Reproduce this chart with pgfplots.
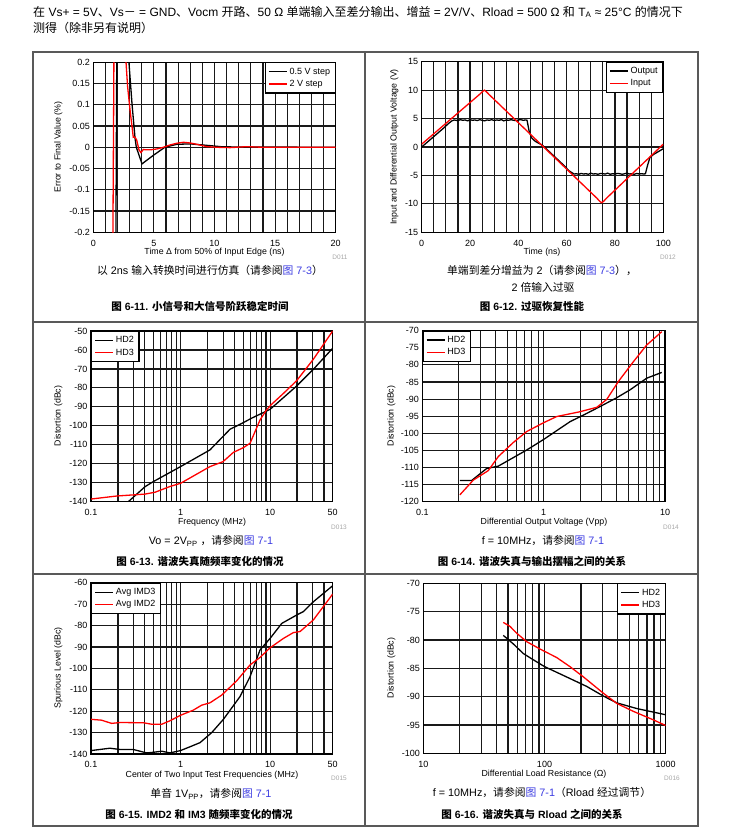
\documentclass[border=0pt]{standalone}
\usepackage{fontspec}
\setmainfont{Liberation Sans}
\newfontfamily\cjk{Noto Sans CJK SC}
\usepackage{pgfplots}
\pgfplotsset{compat=1.18}

\definecolor{lnk}{RGB}{60,60,225}
\definecolor{frm}{gray}{0.35}
\newcommand\zh[1]{{\cjk #1}}
\newcommand\lbl{\fontsize{8.8}{10}\selectfont}
\newcommand\hdf{\fontsize{12}{14}\selectfont}
\newcommand\capf{\fontsize{10.8}{12}\selectfont}
\newcommand\ttlf{\fontsize{10.5}{12}\selectfont\bfseries}
\newcommand\dnum{\fontsize{6.5}{7}\selectfont\color{black!35}}

\pgfplotsset{
  ds/.style={
    scale only axis, anchor=south west,
    axis line style={line width=1.4pt},
    grid=both,
    major grid style={line width=1.15pt, black!90},
    minor grid style={line width=1.15pt, black!90},
    tick style={draw=none},
    tick label style={font=\fontsize{9}{10}\selectfont},
    xticklabel style={yshift=-4pt},
    legend style={font=\fontsize{9}{9.5}\selectfont, draw=black, line width=1.2pt,
      inner xsep=3pt, inner ysep=3pt, row sep=0.5pt, cells={anchor=west}},
    legend image code/.code={\draw[##1, line width=1.4pt] (0pt,0pt) -- (18pt,0pt);},
    every axis plot/.append style={line width=1.3pt, mark=none},
  },
}

\begin{document}
\begin{tikzpicture}[x=1pt,y=1pt]
\path[use as bounding box] (0,0) rectangle (730,833);

% header
\node[anchor=west, font=\hdf, inner sep=0] at (33,821) {\zh{在} Vs+ = 5V\zh{、}Vs\zh{－} = GND\zh{、}Vocm \zh{开路、}50 Ω \zh{单端输入至差分输出、增益} = 2V/V\zh{、}Rload = 500 Ω \zh{和} T\textsubscript{A} ≈ 25°C \zh{的情况下}};
\node[anchor=west, font=\hdf, inner sep=0] at (33,805) {\zh{测得（除非另有说明）}};

% frames
\draw[frm, line width=1.1pt] (33,781) rectangle (698,7);
\draw[frm, line width=1.1pt] (365,781) -- (365,7);
\draw[frm, line width=1.1pt] (33,511) -- (698,511);
\draw[frm, line width=1.1pt] (33,259) -- (698,259);

% ---------- 6-11 ----------
\begin{axis}[ds, at={(93.3pt,600.7pt)}, width=242.4pt, height=170pt,
  xmin=0, xmax=20, ymin=-0.2, ymax=0.2,
  xtick={0,5,10,15,20}, xticklabels={0,5,10,15,20},
  minor xtick={1,2,3,4,6,7,8,9,11,12,13,14,16,17,18,19},
  ytick={-0.2,-0.15,-0.1,-0.05,0,0.05,0.1,0.15,0.2},
  yticklabels={-0.2,-0.15,-0.1,-0.05,0,0.05,0.1,0.15,0.2},
  legend style={at={(1,1)}, anchor=north east}]
\addplot[black] coordinates {
  (1.85,-0.3) (1.95,0.3) (2.9,0.3) (2.94,0.2) (3.2,0.1) (3.45,0.02) (3.55,0)
  (4.02,-0.039) (4.9,-0.02) (5.9,0) (6.88,0.007) (8,0.008) (9.6,0.004)
  (10.7,0.001) (20,0)};
\addplot[red] coordinates {
  (1.6,-0.3) (1.72,0.3) (2.6,0.3) (2.70,0.2) (2.83,0.143) (3.03,0.088)
  (3.30,0.0235) (3.44,0.024) (3.58,0.017) (3.77,-0.006) (3.93,-0.0125)
  (4.13,-0.005) (4.32,-0.006) (4.68,-0.006) (5.23,-0.004) (5.78,0)
  (6.33,0.0055) (6.88,0.0094) (7.43,0.0118) (7.98,0.0102) (8.53,0.0071)
  (9.35,0.0016) (10.18,0) (11.28,-0.0008) (12.65,0.0015) (14.03,0) (20,0)};
\legend{0.5 V step, 2 V step}
\end{axis}
\node[rotate=90, anchor=mid, font=\lbl] at (58,686) {Error to Final Value (\%)};
\node[anchor=mid, font=\lbl] at (214.5,581) {Time Δ from 50\% of Input Edge (ns)};
\node[anchor=mid, font=\dnum] at (340,576) {D011};
\node[anchor=mid, font=\capf] at (210,561) {\zh{以} 2ns \zh{输入转换时间进行仿真（请参阅}\textcolor{lnk}{\zh{图} 7-3}\zh{）}};
\node[anchor=mid, font=\ttlf] at (200,525) {\zh{图} 6-11. \zh{小信号和大信号阶跃稳定时间}};

% ---------- 6-12 ----------
\begin{axis}[ds, at={(421.7pt,600.7pt)}, width=241.6pt, height=170.6pt,
  xmin=0, xmax=100, ymin=-15, ymax=15,
  xtick={0,20,40,60,80,100}, xticklabels={0,20,40,60,80,100},
  minor xtick={5,10,15,25,30,35,45,50,55,65,70,75,85,90,95},
  ytick={-15,-10,-5,0,5,10,15}, yticklabels={-15,-10,-5,0,5,10,15},
  legend style={at={(1,1)}, anchor=north east}]
\addplot[black] coordinates {
  (0,0) (3,1.1) (6,2.2) (9,3.3) (11,4.1) (12.5,4.6) (13.5,4.75) (14,4.7)
  (15,4.65) (16,4.8) (17,4.7) (18,4.75) (19,4.6) (20,4.8) (21,4.7) (22,4.75)
  (23,4.65) (24,4.8) (25,4.7) (26,4.6) (27,4.75) (28,4.7) (29,4.8) (30,4.65)
  (31,4.75) (32,4.7) (33,4.8) (34,4.6) (35,4.75) (36,4.7) (37,4.8) (38,4.7)
  (39,4.65) (40,4.75) (41,4.8) (42,4.7) (43,4.75) (43.6,4.7) (44.5,2.7)
  (45.5,1.6) (47,1.0) (50,0.3) (53,-0.9) (56,-2.1) (59,-3.3) (61,-4.2)
  (62.5,-4.6) (63,-4.75) (64,-4.7) (65,-4.8) (66,-4.65) (67,-4.75) (68,-4.7)
  (69,-4.8) (70,-4.6) (71,-4.75) (72,-4.7) (73,-4.8) (74,-4.65) (75,-4.7)
  (76,-4.75) (77,-4.6) (78,-4.8) (79,-4.7) (80,-4.75) (81,-4.65) (82,-4.7)
  (83,-4.8) (84,-4.7) (85,-4.6) (86,-4.75) (87,-4.7) (88,-4.8) (89,-4.65)
  (90,-4.75) (91,-4.7) (92,-4.75) (92.6,-4.7) (93.5,-3.2) (94.5,-1.8)
  (96,-1.3) (98,-0.8) (100,-0.3)};
\addplot[red] coordinates {
  (0,0.5) (24,9.27) (25.2,9.75) (26,10) (26.8,9.7) (28,9.18) (72.5,-9.0)
  (73.8,-9.6) (74.5,-9.8) (75.3,-9.55) (76.5,-9.0) (100,0.5)};
\legend{Output, Input}
\end{axis}
\node[rotate=90, anchor=mid, font=\lbl] at (394,686) {Input and Differential Output Voltage (V)};
\node[anchor=mid, font=\lbl] at (542,581) {Time (ns)};
\node[anchor=mid, font=\dnum] at (668,576) {D012};
\node[anchor=mid, font=\capf] at (542,561) {\zh{单端到差分增益为} 2\zh{（请参阅}\textcolor{lnk}{\zh{图} 7-3}\zh{），}};
\node[anchor=mid, font=\capf] at (543,544) {2 \zh{倍输入过驱}};
\node[anchor=mid, font=\ttlf] at (532,525) {\zh{图} 6-12. \zh{过驱恢复性能}};

% ---------- 6-13 ----------
\begin{axis}[ds, xmode=log, at={(91pt,331.3pt)}, width=241.7pt, height=170.7pt,
  xmin=0.1, xmax=50, ymin=-140, ymax=-50,
  xtick={0.1,1,10,50}, xticklabels={0.1,1,10,50},
  minor xtick={0.2,0.3,0.4,0.5,0.6,0.7,0.8,0.9,2,3,4,5,6,7,8,9,20,30,40},
  ytick={-140,-130,-120,-110,-100,-90,-80,-70,-60,-50},
  yticklabels={-140,-130,-120,-110,-100,-90,-80,-70,-60,-50},
  legend style={at={(0,1)}, anchor=north west}]
\addplot[black] coordinates {
  (0.261,-140) (0.401,-132.1) (0.497,-129.4) (1,-121.5) (2.13,-112.7)
  (3.57,-101.8) (5.03,-98.3) (6.2,-96) (10,-91.3) (19.8,-79) (30.4,-70.2)
  (50,-59.1)};
\addplot[red] coordinates {
  (0.1,-138.6) (0.194,-137) (0.4,-136) (0.52,-135) (0.76,-132) (1,-130.3)
  (2.13,-121.5) (2.98,-118.9) (3.89,-114) (5.03,-111.5) (5.97,-109.2)
  (7.72,-96.9) (9.0,-92) (10.2,-89) (14.1,-82.9) (19.8,-76.2) (30.4,-64.9)
  (50,-50)};
\legend{HD2, HD3}
\end{axis}
\node[rotate=90, anchor=mid, font=\lbl] at (58,417) {Distortion (dBc)};
\node[anchor=mid, font=\lbl] at (212,311.3) {Frequency (MHz)};
\node[anchor=mid, font=\dnum] at (339,306) {D013};
\node[anchor=mid, font=\capf] at (211,291) {Vo = 2V\textsubscript{PP} \zh{，请参阅}\textcolor{lnk}{\zh{图} 7-1}};
\node[anchor=mid, font=\ttlf] at (200,270) {\zh{图} 6-13. \zh{谐波失真随频率变化的情况}};

% ---------- 6-14 ----------
\begin{axis}[ds, xmode=log, at={(422.3pt,331.3pt)}, width=242.7pt, height=171pt,
  xmin=0.1, xmax=10, ymin=-120, ymax=-70,
  xtick={0.1,1,10}, xticklabels={0.1,1,10},
  minor xtick={0.2,0.3,0.4,0.5,0.6,0.7,0.8,0.9,2,3,4,5,6,7,8,9},
  ytick={-120,-115,-110,-105,-100,-95,-90,-85,-80,-75,-70},
  yticklabels={-120,-115,-110,-105,-100,-95,-90,-85,-80,-75,-70},
  legend style={at={(0,1)}, anchor=north west}]
\addplot[black] coordinates {
  (0.204,-113.8) (0.255,-113.8) (0.339,-110.3) (0.423,-109.6) (0.724,-104.9)
  (1,-101.8) (1.65,-96.6) (2.12,-94.7) (2.91,-92.2) (4.0,-89.6) (5.15,-87.3)
  (7.06,-83.9) (9.4,-82.2)};
\addplot[red] coordinates {
  (0.204,-118) (0.263,-113.7) (0.35,-110.9) (0.423,-106.8) (0.562,-102.7)
  (0.724,-99.5) (1,-96.9) (1.28,-95.1) (1.99,-93.7) (2.74,-92.4) (3.31,-90.1)
  (4.12,-84.9) (5.48,-79.1) (7.06,-74.2) (9.4,-70.3)};
\legend{HD2, HD3}
\end{axis}
\node[rotate=90, anchor=mid, font=\lbl] at (391,417) {Distortion (dBc)};
\node[anchor=mid, font=\lbl] at (544,311) {Differential Output Voltage (Vpp)};
\node[anchor=mid, font=\dnum] at (671,306) {D014};
\node[anchor=mid, font=\capf] at (543,291) {f = 10MHz\zh{，请参阅}\textcolor{lnk}{\zh{图} 7-1}};
\node[anchor=mid, font=\ttlf] at (532,270) {\zh{图} 6-14. \zh{谐波失真与输出摆幅之间的关系}};

% ---------- 6-15 ----------
\begin{axis}[ds, xmode=log, at={(91pt,79pt)}, width=241.7pt, height=171.3pt,
  xmin=0.1, xmax=50, ymin=-140, ymax=-60,
  xtick={0.1,1,10,50}, xticklabels={0.1,1,10,50},
  minor xtick={0.2,0.3,0.4,0.5,0.6,0.7,0.8,0.9,2,3,4,5,6,7,8,9,20,30,40},
  ytick={-140,-130,-120,-110,-100,-90,-80,-70,-60},
  yticklabels={-140,-130,-120,-110,-100,-90,-80,-70,-60},
  legend style={at={(0,1)}, anchor=north west}]
\addplot[black] coordinates {
  (0.1,-138.4) (0.163,-137.3) (0.211,-137.9) (0.297,-137.9) (0.418,-139.5)
  (0.497,-139.2) (0.616,-138.7) (0.76,-139.5) (1,-138.4) (1.28,-136.6)
  (1.65,-134.7) (2.23,-130) (3.01,-123.8) (4.61,-113.2) (5.97,-103.9)
  (7.72,-91.4) (10,-86) (13.5,-79) (19.8,-75.1) (23.5,-73.5) (30.4,-68.9)
  (50,-61.4)};
\addplot[red] coordinates {
  (0.1,-123.8) (0.131,-124.2) (0.17,-125.7) (0.211,-125.3) (0.384,-125.4)
  (0.476,-126.1) (0.616,-126.1) (0.76,-124.5) (1,-121.9) (1.39,-119.5)
  (1.72,-117.2) (2.13,-116.1) (2.88,-112.5) (4.24,-105.8) (5.97,-98.4)
  (7.72,-94.9) (10,-90.4) (14.1,-86) (18.2,-83.3) (21.6,-82.8) (30.4,-77.4)
  (50,-65.3)};
\legend{Avg IMD3, Avg IMD2}
\end{axis}
\node[rotate=90, anchor=mid, font=\lbl] at (58,165) {Spurious Level (dBc)};
\node[anchor=mid, font=\lbl] at (212,58) {Center of Two Input Test Frequencies (MHz)};
\node[anchor=mid, font=\dnum] at (339,55) {D015};
\node[anchor=mid, font=\capf] at (211,38) {\zh{单音} 1V\textsubscript{PP}\zh{，请参阅}\textcolor{lnk}{\zh{图} 7-1}};
\node[anchor=mid, font=\ttlf] at (199,17) {\zh{图} 6-15. IMD2 \zh{和} IM3 \zh{随频率变化的情况}};

% ---------- 6-16 ----------
\begin{axis}[ds, xmode=log, at={(423.3pt,79.7pt)}, width=242.4pt, height=170pt,
  xmin=10, xmax=1000, ymin=-100, ymax=-70,
  xtick={10,100,1000}, xticklabels={10,100,1000},
  minor xtick={20,30,40,50,60,70,80,90,200,300,400,500,600,700,800,900},
  ytick={-100,-95,-90,-85,-80,-75,-70},
  yticklabels={-100,-95,-90,-85,-80,-75,-70},
  legend style={at={(1,1)}, anchor=north east}]
\addplot[black] coordinates {
  (45.7,-79.2) (48.8,-79.7) (55.3,-80.7) (66.9,-82.4) (80.9,-83.5) (100,-84.7)
  (162,-86.8) (223,-88.2) (306,-89.9) (395,-91.1) (577,-92.1) (1000,-93.2)};
\addplot[red] coordinates {
  (45.7,-76.9) (51.9,-77.6) (58.9,-78.8) (71.3,-80.3) (91.9,-81.6) (126,-83.1)
  (162,-84.7) (209,-86.5) (306,-89.4) (395,-91.2) (541,-92.6) (791,-94.1)
  (1000,-95.1)};
\legend{HD2, HD3}
\end{axis}
\node[rotate=90, anchor=mid, font=\lbl] at (391,165) {Distortion (dBc)};
\node[anchor=mid, font=\lbl] at (544,59) {Differential Load Resistance (Ω)};
\node[anchor=mid, font=\dnum] at (672,55) {D016};
\node[anchor=mid, font=\capf] at (542,39) {f = 10MHz\zh{，请参阅}\textcolor{lnk}{\zh{图} 7-1}\zh{（}Rload \zh{经过调节）}};
\node[anchor=mid, font=\ttlf] at (532,17) {\zh{图} 6-16. \zh{谐波失真与} Rload \zh{之间的关系}};
\end{tikzpicture}
\end{document}
